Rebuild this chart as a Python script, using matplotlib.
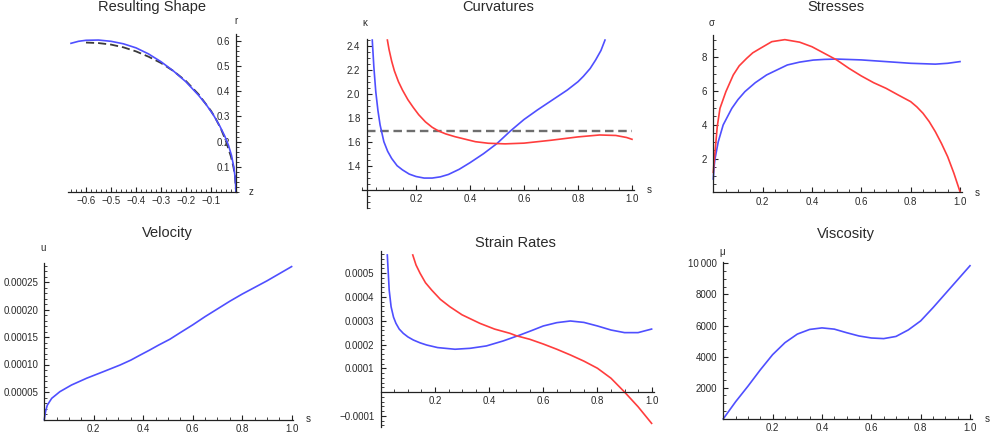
import matplotlib
matplotlib.use('Agg')
import matplotlib.pyplot as plt
from matplotlib.ticker import FixedLocator, FixedFormatter, MultipleLocator

plt.rcParams['font.family'] = ['Liberation Sans', 'DejaVu Sans']

# ---------------- data ----------------
# Resulting Shape (z, r)
shape_z = [-0.66, -0.63, -0.60, -0.55, -0.50, -0.45, -0.40, -0.35, -0.30, -0.25, -0.20,
           -0.15, -0.12, -0.09, -0.065, -0.045, -0.03, -0.018, -0.009, -0.003, 0.0]
shape_r = [0.590, 0.598, 0.602, 0.603, 0.598, 0.588, 0.572, 0.548, 0.517, 0.480, 0.437,
           0.384, 0.348, 0.305, 0.262, 0.222, 0.185, 0.145, 0.100, 0.055, 0.0]
init_z = [-0.60, -0.55, -0.50, -0.45, -0.40, -0.35, -0.30, -0.25, -0.20, -0.15, -0.10,
          -0.08, -0.06, -0.04, -0.02, -0.01, -0.004, 0.0]
init_r = [0.593, 0.591, 0.585, 0.574, 0.558, 0.537, 0.512, 0.480, 0.440, 0.388, 0.322,
          0.289, 0.250, 0.201, 0.140, 0.098, 0.062, 0.0]
shape_xticks = [-0.6, -0.5, -0.4, -0.3, -0.2, -0.1]
shape_xlabels = ['\u22120.6', '\u22120.5', '\u22120.4', '\u22120.3', '\u22120.2', '\u22120.1']
shape_yticks = [0.1, 0.2, 0.3, 0.4, 0.5, 0.6]
shape_ylabels = ['0.1', '0.2', '0.3', '0.4', '0.5', '0.6']

# Curvatures
curv1_s = [0.038, 0.044, 0.051, 0.059, 0.067, 0.081, 0.095, 0.11, 0.13, 0.15, 0.175, 0.20,
           0.23, 0.26, 0.29, 0.32, 0.36, 0.40, 0.45, 0.50, 0.55, 0.60, 0.65, 0.70, 0.76,
           0.80, 0.82, 0.845, 0.865, 0.885, 0.90]
curv1_k = [2.447, 2.22, 2.017, 1.86, 1.74, 1.60, 1.52, 1.46, 1.40, 1.365, 1.33, 1.31,
           1.297, 1.297, 1.307, 1.327, 1.37, 1.425, 1.50, 1.585, 1.69, 1.785, 1.865, 1.94,
           2.03, 2.10, 2.145, 2.21, 2.28, 2.36, 2.447]
curv2_s = [0.094, 0.10, 0.11, 0.12, 0.135, 0.15, 0.17, 0.19, 0.21, 0.235, 0.26, 0.283,
           0.31, 0.344, 0.38, 0.42, 0.468, 0.53, 0.60, 0.70, 0.80, 0.88, 0.94, 0.98, 1.0]
curv2_k = [2.447, 2.37, 2.27, 2.19, 2.10, 2.03, 1.95, 1.885, 1.825, 1.765, 1.72, 1.69,
           1.665, 1.642, 1.622, 1.60, 1.587, 1.582, 1.588, 1.612, 1.64, 1.656, 1.652,
           1.635, 1.62]
curv_ref_s = [0.017, 1.0]
curv_ref_k = [1.69, 1.69]
curv_xticks = [0.2, 0.4, 0.6, 0.8, 1.0]
curv_xlabels = ['0.2', '0.4', '0.6', '0.8', '1.0']
curv_yticks = [1.4, 1.6, 1.8, 2.0, 2.2, 2.4]
curv_ylabels = ['1.4', '1.6', '1.8', '2.0', '2.2', '2.4']

# Stresses
stress1_s = [0.0, 0.003, 0.007, 0.02, 0.04, 0.075, 0.10, 0.128, 0.17, 0.216, 0.25, 0.30,
             0.35, 0.405, 0.45, 0.5, 0.6, 0.7, 0.8, 0.9, 0.95, 1.0]
stress1_v = [0.8, 1.5, 2.0, 3.0, 4.0, 4.98, 5.5, 5.97, 6.5, 6.96, 7.2, 7.55, 7.72, 7.84,
             7.88, 7.9, 7.85, 7.75, 7.65, 7.6, 7.65, 7.75]
stress2_s = [0.0, 0.003, 0.007, 0.016, 0.027, 0.051, 0.081, 0.105, 0.135, 0.16, 0.19, 0.237,
             0.29, 0.35, 0.40, 0.45, 0.50, 0.55, 0.60, 0.65, 0.70, 0.75, 0.80, 0.825, 0.85,
             0.875, 0.90, 0.925, 0.95, 0.975, 1.0]
stress2_v = [1.2, 1.8, 2.4, 3.9, 4.98, 5.97, 6.96, 7.5, 7.94, 8.27, 8.53, 8.93, 9.05, 8.9,
             8.63, 8.24, 7.85, 7.35, 6.9, 6.5, 6.17, 5.77, 5.38, 5.07, 4.69, 4.2, 3.6, 2.9,
             2.12, 1.15, 0.05]
s_xticks = [0.2, 0.4, 0.6, 0.8, 1.0]
s_xlabels = ['0.2', '0.4', '0.6', '0.8', '1.0']
stress_yticks = [2, 4, 6, 8]
stress_ylabels = ['2', '4', '6', '8']

# Velocity
vel_s = [0.0, 0.005, 0.012, 0.03, 0.063, 0.11, 0.171, 0.239, 0.306, 0.35, 0.387, 0.425,
         0.461, 0.508, 0.55, 0.6, 0.65, 0.7, 0.75, 0.8, 0.85, 0.9, 0.95, 1.0]
vel_u = [0.0, 1.42e-5, 2.6e-5, 3.85e-5, 5.06e-5, 6.27e-5, 7.5e-5, 8.7e-5, 9.9e-5,
         1.08e-4, 1.17e-4, 1.26e-4, 1.35e-4, 1.46e-4, 1.58e-4, 1.72e-4, 1.87e-4,
         2.01e-4, 2.15e-4, 2.28e-4, 2.40e-4, 2.52e-4, 2.65e-4, 2.78e-4]
vel_yticks = [5e-5, 1e-4, 1.5e-4, 2e-4, 2.5e-4]
vel_ylabels = ['0.00005', '0.00010', '0.00015', '0.00020', '0.00025']

# Strain Rates
strain1_s = [0.024, 0.031, 0.038, 0.047, 0.056, 0.068, 0.083, 0.10, 0.12, 0.145, 0.169,
             0.21, 0.274, 0.33, 0.39, 0.452, 0.514, 0.56, 0.6, 0.65, 0.7, 0.75, 0.8, 0.85,
             0.9, 0.95, 1.0]
strain1_e = [5.77e-4, 4.29e-4, 3.59e-4, 3.15e-4, 2.89e-4, 2.65e-4, 2.47e-4, 2.32e-4,
             2.19e-4, 2.07e-4, 1.98e-4, 1.87e-4, 1.80e-4, 1.84e-4, 1.94e-4, 2.15e-4,
             2.40e-4, 2.60e-4, 2.78e-4, 2.92e-4, 2.99e-4, 2.93e-4, 2.78e-4, 2.61e-4,
             2.50e-4, 2.50e-4, 2.65e-4]
strain2_s = [0.118, 0.13, 0.145, 0.165, 0.188, 0.22, 0.255, 0.30, 0.366, 0.42, 0.477, 0.5,
             0.55, 0.6, 0.65, 0.7, 0.75, 0.8, 0.85, 0.9, 0.95, 1.0]
strain2_e = [5.77e-4, 5.35e-4, 5.0e-4, 4.6e-4, 4.29e-4, 3.90e-4, 3.59e-4, 3.25e-4, 2.89e-4,
             2.65e-4, 2.47e-4, 2.37e-4, 2.22e-4, 2.02e-4, 1.80e-4, 1.56e-4, 1.30e-4,
             1.0e-4, 0.58e-4, 0.0, -0.62e-4, -1.32e-4]
strain_yticks = [-1e-4, 1e-4, 2e-4, 3e-4, 4e-4, 5e-4]
strain_ylabels = ['\u22120.0001', '0.0001', '0.0002', '0.0003', '0.0004', '0.0005']

# Viscosity
visc_s = [0.0, 0.05, 0.1, 0.15, 0.2, 0.25, 0.3, 0.35, 0.4, 0.45, 0.5, 0.55, 0.6, 0.65,
          0.7, 0.75, 0.8, 0.85, 0.9, 0.95, 1.0]
visc_mu = [0, 1100, 2100, 3150, 4130, 4900, 5450, 5750, 5850, 5770, 5540, 5330, 5200,
           5160, 5300, 5720, 6300, 7150, 8050, 8950, 9850]
visc_yticks = [2000, 4000, 6000, 8000, 10000]
visc_ylabels = ['2000', '4000', '6000', '8000', '10\u2009000']

# ---------------- styling ----------------
W, H = 990, 440
BLUE = '#4f4fff'
RED = '#ff3d3d'
AX_C = '#222222'
TXT_C = '#2a2a2a'

fig = plt.figure(figsize=(W / 100, H / 100), dpi=100)


def make_ax(x0, xs, y0, ys, xlim, ylim, xorig, yorig):
    L = x0 + xs * xlim[0]
    R = x0 + xs * xlim[1]
    T = y0 - ys * ylim[1]
    B = y0 - ys * ylim[0]
    ax = fig.add_axes([L / W, 1 - B / H, (R - L) / W, (B - T) / H])
    ax.set_xlim(xlim)
    ax.set_ylim(ylim)
    ax.patch.set_alpha(0)
    for sp in ['top', 'right']:
        ax.spines[sp].set_visible(False)
    ax.spines['left'].set_position(('data', xorig))
    ax.spines['bottom'].set_position(('data', yorig))
    for sp in ['left', 'bottom']:
        ax.spines[sp].set_linewidth(0.9)
        ax.spines[sp].set_color(AX_C)
    ax.tick_params(which='both', direction='in', color=AX_C, labelcolor=TXT_C, labelsize=7)
    ax.tick_params(which='major', length=3.5, width=0.8)
    ax.tick_params(which='minor', length=2.0, width=0.6)
    ax.tick_params(axis='x', pad=3)
    ax.tick_params(axis='y', pad=4.5)
    return ax


def set_ticks(ax, xt, xl, yt, yl, xminor, yminor):
    ax.xaxis.set_major_locator(FixedLocator(xt))
    ax.xaxis.set_major_formatter(FixedFormatter(xl))
    ax.yaxis.set_major_locator(FixedLocator(yt))
    ax.yaxis.set_major_formatter(FixedFormatter(yl))
    ax.xaxis.set_minor_locator(MultipleLocator(xminor))
    ax.yaxis.set_minor_locator(MultipleLocator(yminor))


def ftext(x, y, s, size=7, **kw):
    fig.text(x / W, 1 - y / H, s, fontsize=size, color=TXT_C, **kw)


LW = 1.2

# Panel 1: Resulting Shape
ax1 = make_ax(236, 250, 192, 252, (-0.672, 0.003), (0.0, 0.625), 0, 0)
ax1.plot(init_z, init_r, color='#3a3a3a', lw=1.3, dashes=(4.5, 2.2), clip_on=False)
ax1.plot(shape_z, shape_r, color=BLUE, lw=LW, clip_on=False)
set_ticks(ax1, shape_xticks, shape_xlabels, shape_yticks, shape_ylabels, 0.02, 0.02)
ftext(236, 21, 'r', ha='center', va='center')
ftext(251, 192, 'z', ha='center', va='center')

# Panel 2: Curvatures
ax2 = make_ax(362, 270, 333.7, 120, (0.0, 1.007), (1.05, 2.455), 0.017, 1.2)
ax2.plot(curv_ref_s, curv_ref_k, color='#6e6e6e', lw=1.7, dashes=(3.6, 2.0), clip_on=False)
ax2.plot(curv1_s, curv1_k, color=BLUE, lw=LW, clip_on=False)
ax2.plot(curv2_s, curv2_k, color=RED, lw=LW, clip_on=False)
set_ticks(ax2, curv_xticks, curv_xlabels, curv_yticks, curv_ylabels, 0.05, 0.05)
ftext(365, 22.7, '\u03ba', ha='center', va='center')
ftext(649, 190, 's', ha='center', va='center')

# Panel 3: Stresses
ax3 = make_ax(713.3, 246.7, 192.5, 16.89, (0.0, 1.008), (0.0, 9.3), 0, 0)
ax3.plot(stress1_s, stress1_v, color=BLUE, lw=LW, clip_on=False)
ax3.plot(stress2_s, stress2_v, color=RED, lw=LW, clip_on=False)
set_ticks(ax3, s_xticks, s_xlabels, stress_yticks, stress_ylabels, 0.05, 0.5)
ftext(711.7, 22.7, '\u03c3', ha='center', va='center')
ftext(977, 192.7, 's', ha='center', va='center')

# Panel 4: Velocity
ax4 = make_ax(44.3, 247.3, 419.5, 550000, (0.0, 1.007), (0.0, 0.000284), 0, 0)
ax4.plot(vel_s, vel_u, color=BLUE, lw=LW, clip_on=False)
set_ticks(ax4, s_xticks, s_xlabels, vel_yticks, vel_ylabels, 0.05, 1e-5)
ftext(43.3, 248.3, 'u', ha='center', va='center')
ftext(308.3, 419, 's', ha='center', va='center')

# Panel 5: Strain Rates
ax5 = make_ax(380.8, 270.8, 392, 237500, (0.0, 1.008), (-0.000147, 0.000593), 0, 0)
ax5.plot(strain1_s, strain1_e, color=BLUE, lw=LW, clip_on=False)
ax5.plot(strain2_s, strain2_e, color=RED, lw=LW, clip_on=False)
set_ticks(ax5, s_xticks, s_xlabels, strain_yticks, strain_ylabels, 0.05, 2e-5)

# Panel 6: Viscosity
ax6 = make_ax(723.3, 246.7, 418.8, 0.01554, (0.0, 1.008), (0, 10100), 0, 0)
ax6.plot(visc_s, visc_mu, color=BLUE, lw=LW, clip_on=False)
set_ticks(ax6, s_xticks, s_xlabels, visc_yticks, visc_ylabels, 0.05, 500)
ftext(721.7, 251.7, '\u03bc', ha='center', va='center')
ftext(987, 419, 's', ha='center', va='center')

# Titles
TS = 10.5
ftext(151.7, 10.5, 'Resulting Shape', size=TS, ha='center', va='baseline')
ftext(497.8, 11, 'Curvatures', size=TS, ha='center', va='baseline')
ftext(835.8, 10.7, 'Stresses', size=TS, ha='center', va='baseline')
ftext(167.7, 237.3, 'Velocity', size=TS, ha='center', va='baseline')
ftext(515.3, 246.7, 'Strain Rates', size=TS, ha='center', va='baseline')
ftext(846, 238.3, 'Viscosity', size=TS, ha='center', va='baseline')

fig.savefig('out.png', dpi=100)
